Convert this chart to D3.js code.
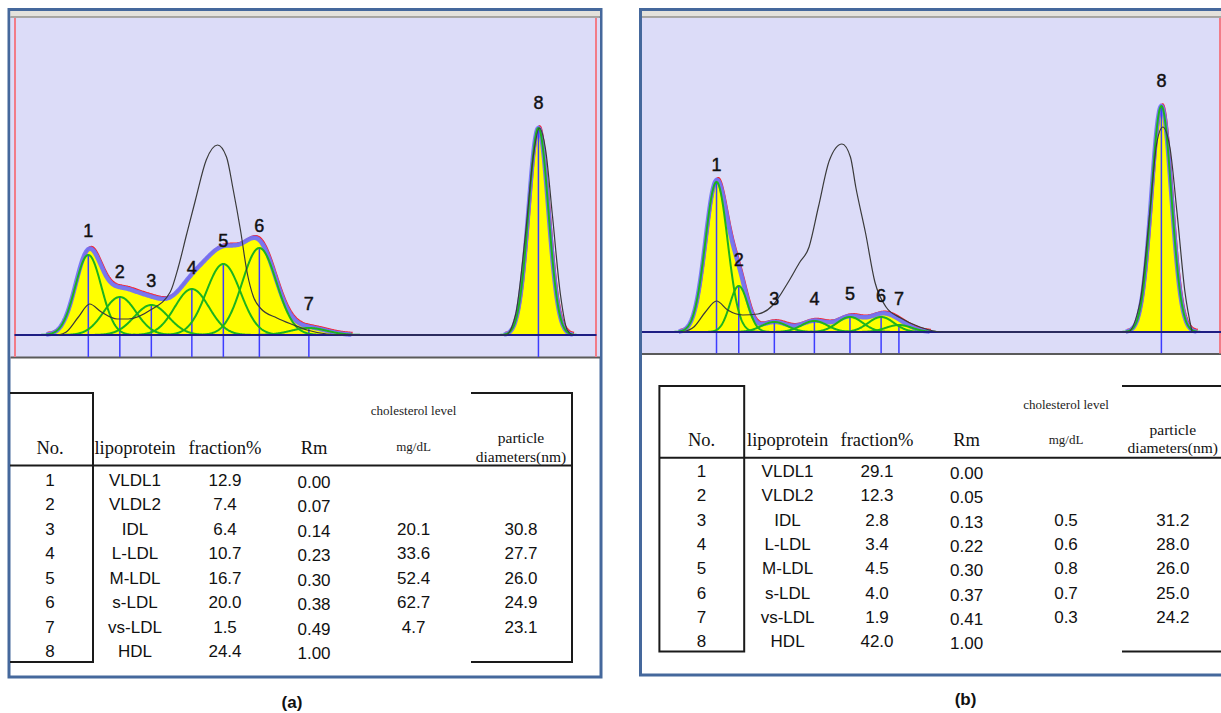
<!DOCTYPE html>
<html><head><meta charset="utf-8">
<script src="https://cdn.jsdelivr.net/npm/d3@7"></script>
<style>body{margin:0;background:#fff}svg{display:block}</style>
</head><body><svg id="c" width="1221" height="713"></svg>
<script>
// ---------------- DATA ----------------
const peakNo = [1,2,3,4,5,6,7,8];
const lipoproteins = ["VLDL1","VLDL2","IDL","L-LDL","M-LDL","s-LDL","vs-LDL","HDL"];

// panel (a)
const fractionA = [12.9,7.4,6.4,10.7,16.7,20.0,1.5,24.4];
const rmA       = [0.00,0.07,0.14,0.23,0.30,0.38,0.49,1.00];
const cholA     = [null,null,20.1,33.6,52.4,62.7,4.7,null];
const diamA     = [null,null,30.8,27.7,26.0,24.9,23.1,null];
// fitted component peak heights (arbitrary densitometric units) and widths (Rm units)
const heightA   = [80,38,30,46,71,87,7,207];
const widthA    = [0.029,0.036,0.038,0.038,0.038,0.038,0.040,0.022];
const refRmA = [-0.067,-0.049,-0.022,0.003,0.029,0.064,0.089,0.138,0.182,0.200,0.218,0.238,0.262,0.287,0.307,0.322,0.338,0.353,0.367,0.382,0.419,0.456,0.486,0.530,0.571,
                0.927,0.949,0.971,0.989,1.002,1.016,1.031,1.049,1.064,1.076];
const refHA  = [0,3,18,31,23,16,16,25,43,68,100,135,175,190,178,145,105,62,38,27,17,10,5,1,0,
                0,20,100,180,207,185,120,40,5,0];

// panel (b)
const fractionB = [29.1,12.3,2.8,3.4,4.5,4.0,1.9,42.0];
const rmB       = [0.00,0.05,0.13,0.22,0.30,0.37,0.41,1.00];
const cholB     = [null,null,0.5,0.6,0.8,0.7,0.3,null];
const diamB     = [null,null,31.2,28.0,26.0,25.0,24.2,null];
const heightB   = [150,46,10,11,15,15,7,226];
const widthB    = [0.025,0.020,0.029,0.029,0.029,0.029,0.029,0.0225];
const refRmB = [-0.076,-0.051,-0.025,0.000,0.025,0.059,0.093,0.127,0.160,0.186,0.208,0.229,0.254,0.282,0.301,0.313,0.335,0.356,0.381,0.414,0.457,0.509,
                0.924,0.952,0.974,0.990,1.003,1.019,1.035,1.053,1.069];
const refHB  = [0,5,20,31,22,17,18,27,49,69,85,125,172,188,175,145,99,50,25,14,5,0,
                0,30,120,190,205,185,120,40,0];

const headers = ["No.","lipoprotein","fraction%","Rm"];

// ---------------- LAYOUT ----------------
const panels = [
  { id:"a", frame:[9,9.5,592,667.5], area:[10.5,600,18,357], baseline:335,
    xRange:[14.5,596.5], xDomain:[-0.164,1.129], redX:[15,596],
    frac:fractionA, rm:rmA, chol:cholA, diam:diamA, h:heightA, w:widthA, refRm:refRmA, refH:refHA,
    labelLevel:[98,57,48,61,88,103,25,226],
    table:{ cols:[50,135,225,314,413.6,521], headY:453.5, cholY:415, mgY:451, partY:443, diamY:461.5,
            row0:485.5, step:24.57, hline:[10,572,465.5],
            boxes:["M10,393H93V662H10","M471,393H572V662H471"] },
    caption:{text:"(a)", x:292, y:708} },
  { id:"b", frame:[640.5,9.5,600,665.5], area:[642,1221,18,353.5], baseline:332,
    xRange:[640,1221], xDomain:[-0.172,1.134], redX:[1220],
    frac:fractionB, rm:rmB, chol:cholB, diam:diamB, h:heightB, w:widthB, refRm:refRmB, refH:refHB,
    labelLevel:[161,66,27,27,32,30,27,245],
    table:{ cols:[701.6,787.6,877,966.6,1066,1172.8], headY:446.4, cholY:408.5, mgY:444.4, partY:434.7, diamY:452.8,
            row0:477, step:24.33, hline:[659.4,1221,457.8],
            boxes:["M659.4,386H744.2V651.6H659.4Z","M1122,386H1230","M1122,651.6H1230"] },
    caption:{text:"(b)", x:965.5, y:705} }
];

const svg = d3.select("#c");
const gauss = (x,c,h,s) => h*Math.exp(-((x-c)*(x-c))/(2*s*s));

panels.forEach(p => {
  const g = svg.append("g");
  const [fx,fy,fw,fh] = p.frame;
  g.append("rect").attr("x",fx).attr("y",fy).attr("width",fw).attr("height",fh)
    .attr("fill","#fff").attr("stroke","#45689c").attr("stroke-width",3);
  const [ax0,ax1,ay0,ay1] = p.area;
  g.append("rect").attr("x",ax0).attr("y",11).attr("width",ax1-ax0).attr("height",5.5).attr("fill","#e4e2dc");
  g.append("line").attr("x1",ax0).attr("x2",ax1).attr("y1",17).attr("y2",17).attr("stroke","#8d8b86").attr("stroke-width",1.6);
  g.append("rect").attr("x",ax0).attr("y",ay0).attr("width",ax1-ax0).attr("height",ay1-ay0).attr("fill","#dcdcf8");
  g.append("line").attr("x1",ax0).attr("x2",ax1).attr("y1",ay1+0.5).attr("y2",ay1+0.5).attr("stroke","#5a5a5a").attr("stroke-width",2);

  const x = d3.scaleLinear().domain(p.xDomain).range(p.xRange);
  const y = d3.scaleLinear().domain([0,300]).range([p.baseline, p.baseline-300]);

  p.redX.forEach(rx => g.append("line").attr("x1",rx).attr("x2",rx).attr("y1",ay0).attr("y2",ay1)
    .attr("stroke","#f27c88").attr("stroke-width",2));

  const comps = p.rm.map((c,i)=>({c, h:p.h[i], s:p.w[i]}));
  const xs = d3.range(p.xDomain[0], p.xDomain[1], 0.0015);
  const env = xs.map(v => ({x:v, v:d3.sum(comps, k => gauss(v,k.c,k.h,k.s))}));

  const clip = "clip-"+p.id;
  g.append("clipPath").attr("id",clip).append("rect").attr("x",ax0).attr("y",ay0).attr("width",ax1-ax0).attr("height",ay1-ay0);
  const pg = g.append("g").attr("clip-path",`url(#${clip})`);

  pg.append("path").datum(env).attr("fill","#ffff00")
    .attr("d", d3.area().x(d=>x(d.x)).y0(y(0)).y1(d=>y(d.v)));
  const envLine = d3.line().defined(d=>d.v>0.4).x(d=>x(d.x)).y(d=>y(d.v));
  pg.append("path").datum(env).attr("fill","none").attr("stroke","#ff2020").attr("stroke-width",2)
    .attr("transform","translate(1.2,-1.8)").attr("d", envLine);
  pg.append("path").datum(env).attr("fill","none").attr("stroke","#7272f6").attr("stroke-width",4.5)
    .attr("stroke-opacity",0.95).attr("d", envLine);

  pg.selectAll("line.tick").data(comps).join("line").attr("class","tick")
    .attr("x1",d=>x(d.c)).attr("x2",d=>x(d.c)).attr("y1",d=>y(d.h)).attr("y2",ay1)
    .attr("stroke","#3d3dff").attr("stroke-width",1.5);

  comps.forEach(k => {
    const pts = d3.range(k.c-4*k.s, k.c+4*k.s, 0.001).map(v=>({x:v, v:gauss(v,k.c,k.h,k.s)}));
    pg.append("path").datum(pts).attr("fill","none").attr("stroke","#1db41d").attr("stroke-width",2)
      .attr("d", d3.line().x(d=>x(d.x)).y(d=>y(d.v)));
  });

  pg.append("line").attr("x1",p.xRange[0]).attr("x2",p.xRange[1]).attr("y1",p.baseline).attr("y2",p.baseline)
    .attr("stroke","#1e1e84").attr("stroke-width",2);

  const ref = p.refRm.map((r,i)=>({x:r, v:p.refH[i]}));
  pg.append("path").datum(ref).attr("fill","none").attr("stroke","#3a3a3a").attr("stroke-width",1.2)
    .attr("d", d3.line().curve(d3.curveMonotoneX).x(d=>x(d.x)).y(d=>y(d.v)));

  g.selectAll("text.pk").data(peakNo).join("text").attr("class","pk")
    .attr("x",(d,i)=>x(p.rm[i])).attr("y",(d,i)=>y(p.labelLevel[i]))
    .attr("text-anchor","middle").attr("font-family","Liberation Sans, Arial, sans-serif")
    .attr("font-size",18).attr("fill","#111").attr("stroke","#111").attr("stroke-width",0.45).text(d=>d);

  // ---------- table ----------
  const t = p.table;
  const tg = g.append("g");
  tg.append("line").attr("x1",t.hline[0]).attr("x2",t.hline[1]).attr("y1",t.hline[2]).attr("y2",t.hline[2])
    .attr("stroke","#1a1a1a").attr("stroke-width",2);
  t.boxes.forEach(b => tg.append("path").attr("d",b).attr("fill","none").attr("stroke","#1a1a1a").attr("stroke-width",2));
  const serif = "Liberation Serif, Times New Roman, serif";
  const sans = "Liberation Sans, Arial, sans-serif";
  headers.forEach((h,i)=> tg.append("text").attr("x",t.cols[i]).attr("y",t.headY).attr("text-anchor","middle")
    .attr("font-family",serif).attr("font-size",18.5).attr("fill","#111").text(h));
  tg.append("text").attr("x",t.cols[4]).attr("y",t.cholY).attr("text-anchor","middle").attr("font-family",serif)
    .attr("font-size",13).attr("fill","#222").text("cholesterol level");
  tg.append("text").attr("x",t.cols[4]).attr("y",t.mgY).attr("text-anchor","middle").attr("font-family",serif)
    .attr("font-size",13).attr("fill","#222").text("mg/dL");
  tg.append("text").attr("x",t.cols[5]).attr("y",t.partY).attr("text-anchor","middle").attr("font-family",serif)
    .attr("font-size",15.5).attr("fill","#111").text("particle");
  tg.append("text").attr("x",t.cols[5]).attr("y",t.diamY).attr("text-anchor","middle").attr("font-family",serif)
    .attr("font-size",15.5).attr("fill","#111").text("diameters(nm)");

  const rows = peakNo.map((n,i)=>[String(n), lipoproteins[i], p.frac[i].toFixed(1), p.rm[i].toFixed(2),
      p.chol[i]==null?"":p.chol[i].toFixed(1), p.diam[i]==null?"":p.diam[i].toFixed(1)]);
  rows.forEach((r,i)=> r.forEach((cell,j)=>{
    if(!cell) return;
    tg.append("text").attr("x",t.cols[j]).attr("y",t.row0+i*t.step+(j===3?2:0)).attr("text-anchor","middle")
      .attr("font-family",sans).attr("font-size",17).attr("fill","#111").text(cell);
  }));

  svg.append("text").attr("x",p.caption.x).attr("y",p.caption.y).attr("text-anchor","middle")
    .attr("font-family",sans).attr("font-weight","bold").attr("font-size",17).attr("fill","#111").text(p.caption.text);
});
</script></body></html>
